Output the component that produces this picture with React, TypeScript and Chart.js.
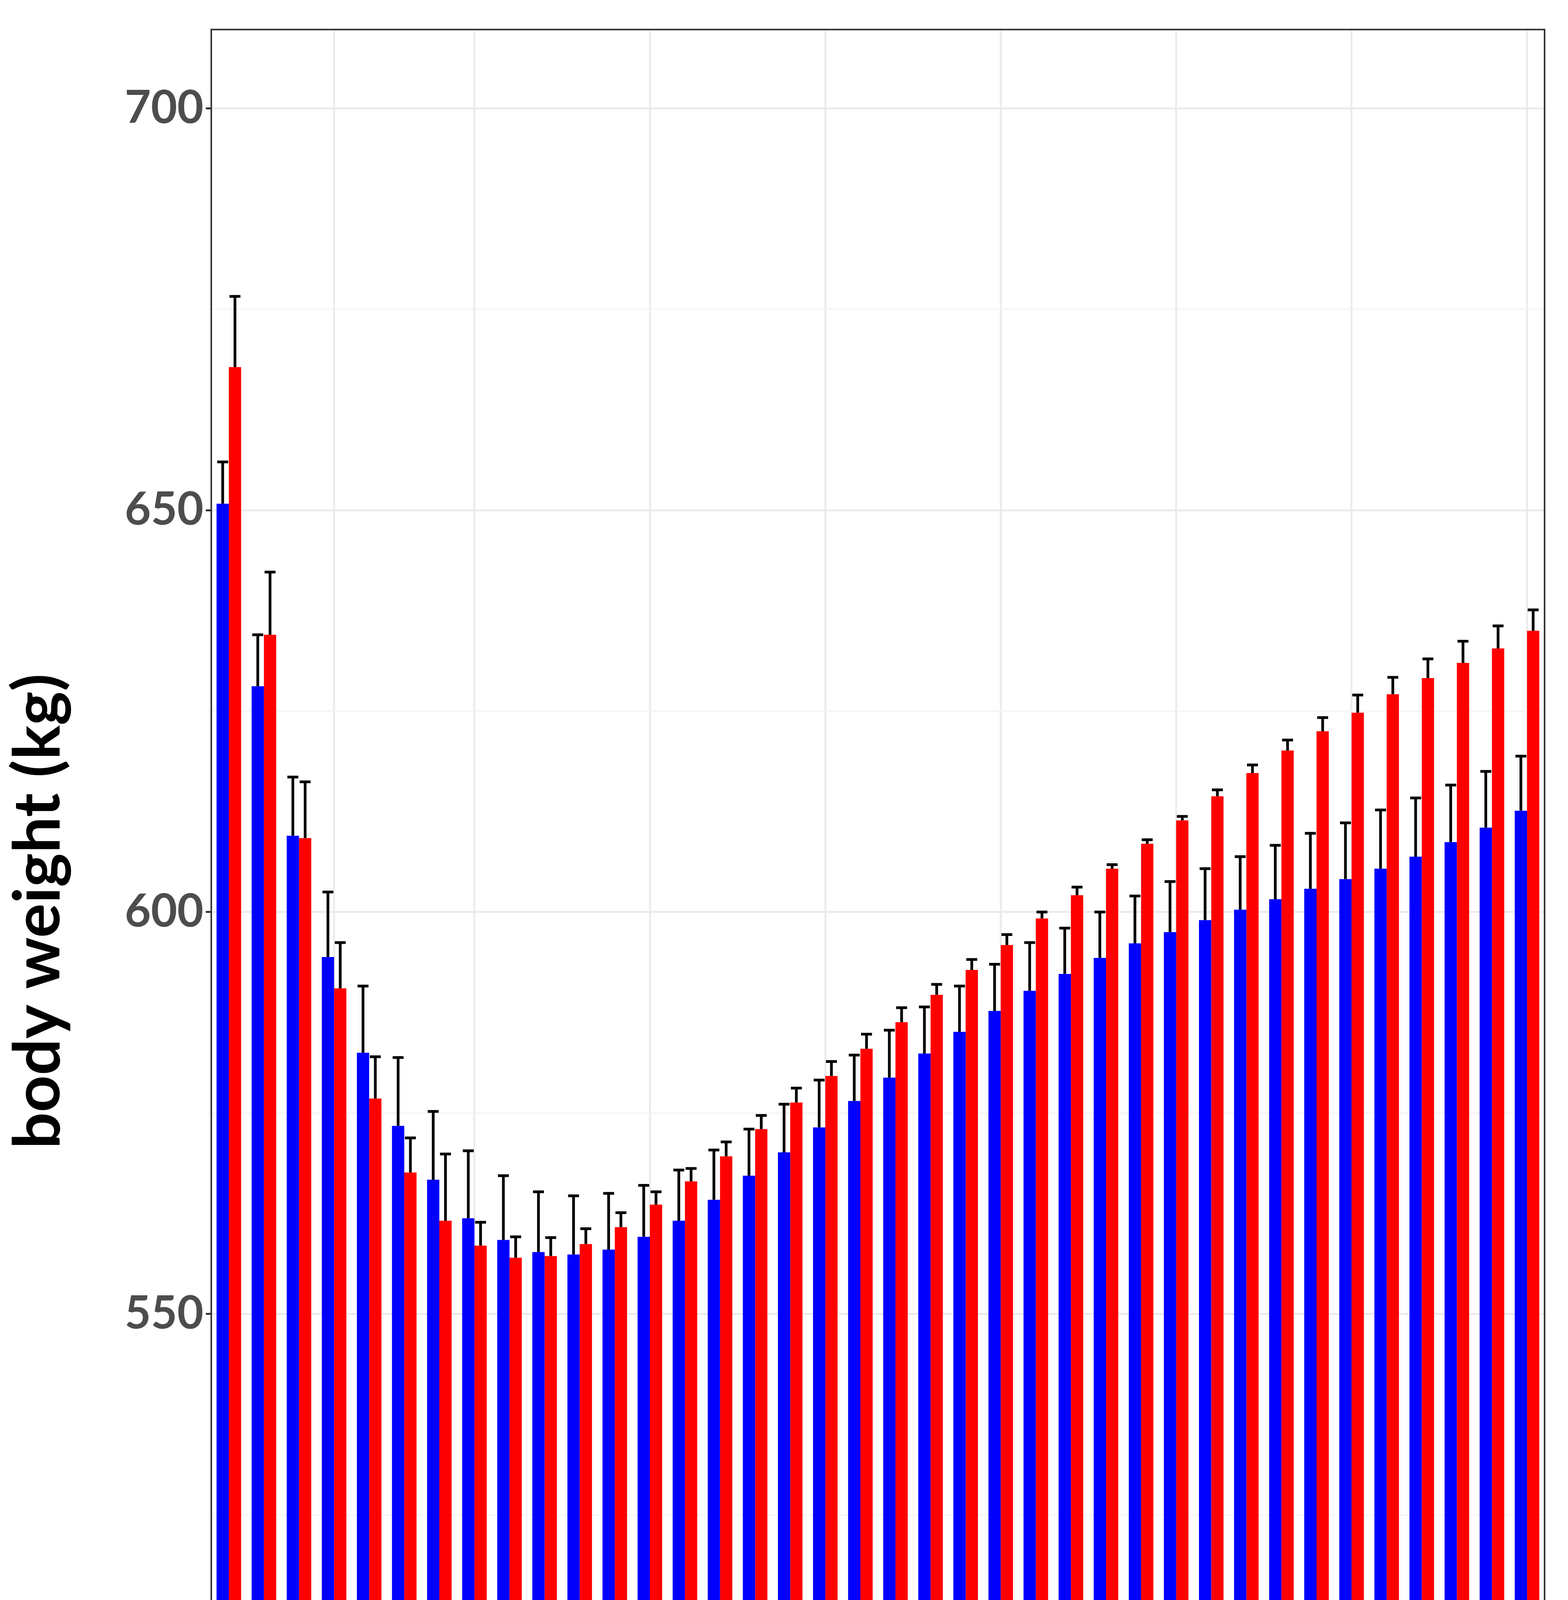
import React, { useEffect, useRef } from "react";
import { Chart, registerables } from "chart.js";
Chart.register(...registerables);

const weeks = ["-3","-2","-1",...Array.from({length:35},(_,i)=>String(i+1))];
const shownLabels = ["-3","1","5","10","15","20","25","30","35"];
const qUpper = [650.8,628.1,609.5,594.4,582.5,573.4,566.7,561.9,559.2,557.7,557.4,558.0,559.6,561.6,564.2,567.2,570.1,573.2,576.5,579.4,582.4,585.1,587.7,590.2,592.3,594.3,596.1,597.5,599.0,600.3,601.6,602.9,604.1,605.4,606.9,608.7,610.5,612.6];
const qLower = [667.8,634.5,609.2,590.5,576.8,567.6,561.6,558.5,557.0,557.2,558.7,560.8,563.6,566.5,569.6,573.0,576.3,579.6,583.0,586.3,589.7,592.8,595.9,599.2,602.1,605.4,608.5,611.4,614.4,617.3,620.1,622.5,624.8,627.1,629.1,631.0,632.8,635.0];
const errUpperQ = [656.0,634.5,616.8,602.5,590.8,581.9,575.2,570.3,567.2,565.2,564.7,565.0,566.0,567.9,570.4,573.0,576.1,579.1,582.2,585.3,588.2,590.8,593.5,596.2,598.0,600.0,602.0,603.8,605.4,606.9,608.3,609.8,611.1,612.7,614.2,615.8,617.5,619.4];
const errLowerQ = [676.6,642.3,616.2,596.2,582.0,571.9,569.9,561.4,559.6,559.5,560.6,562.6,565.2,568.1,571.4,574.7,578.1,581.4,584.8,588.1,591.0,594.1,597.2,600.0,603.1,605.9,609.0,611.9,615.2,618.3,621.4,624.2,627.0,629.2,631.5,633.7,635.6,637.6];
const errTops = [errUpperQ, errLowerQ];

const FONT = "Lato";

export default function App() {
  const ref = useRef<HTMLCanvasElement>(null);
  useEffect(() => {
    const errPlugin = {
      id: "err",
      afterDatasetsDraw(chart: any) {
        const ctx = chart.ctx; const y = chart.scales.y;
        ctx.save(); ctx.strokeStyle = "#000"; ctx.lineWidth = 7;
        [0,1].forEach(d => {
          chart.getDatasetMeta(d).data.forEach((bar: any, j: number) => {
            const top = y.getPixelForValue(errTops[d][j]);
            ctx.beginPath(); ctx.moveTo(bar.x, bar.y); ctx.lineTo(bar.x, top);
            ctx.moveTo(bar.x - 14, top); ctx.lineTo(bar.x + 14, top); ctx.stroke();
          });
        });
        const a = chart.chartArea;
        ctx.strokeStyle = "#333"; ctx.lineWidth = 4;
        ctx.strokeRect(a.left, a.top, a.right - a.left, a.bottom - a.top);
        ctx.restore();
      },
    };
    const chart = new Chart(ref.current!, {
      type: "bar",
      data: { labels: weeks, datasets: [
        { label: "Q", data: qUpper, backgroundColor: "#0000ff", barPercentage: 1, categoryPercentage: 0.7 },
        { label: "q", data: qLower, backgroundColor: "#ff0000", barPercentage: 1, categoryPercentage: 0.7 },
      ]},
      options: {
        animation: false, responsive: false, devicePixelRatio: 1,
        layout: { padding: { top: 51, right: 60, left: 0, bottom: 0 } },
        plugins: { legend: { display: false }, tooltip: { enabled: false } },
        scales: {
          x: {
            grid: { offset: false, drawTicks: true, tickLength: 14, tickColor: "#333", lineWidth: 5,
              color: (c: any) => shownLabels.includes(weeks[c.index]) && weeks[c.index] !== "-3" ? "#ebebeb" : "rgba(0,0,0,0)" },
            border: { display: false },
            ticks: { autoSkip: false, maxRotation: 0, color: "#4d4d4d", font: { family: FONT, size: 116, weight: "bold" }, padding: 4,
              callback: (_v: any, i: number) => shownLabels.includes(weeks[i]) ? weeks[i] : "" },
            title: { display: true, text: "week", color: "#000", font: { family: FONT, size: 165, weight: "bold" }, padding: { top: 0, bottom: 0 } },
            afterFit: (s: any) => { s.height = 370; },
          },
          y: {
            min: 490.4, max: 709.8,
            grid: { lineWidth: (c: any) => c.tick && c.tick.value % 50 === 0 ? 5 : 3, color: (c: any) => c.tick && c.tick.value % 50 === 0 ? "#ebebeb" : "#f3f3f3", tickLength: 14, tickColor: (c: any) => c.tick && c.tick.value % 50 === 0 ? "#333" : "rgba(0,0,0,0)" },
            border: { display: false },
            afterBuildTicks: (s: any) => { s.ticks = [500,525,550,575,600,625,650,675,700].map(v => ({ value: v })); },
            ticks: { color: "#4d4d4d", font: { family: FONT, size: 116, weight: "bold" }, padding: 6,
              callback: (v: any) => v % 50 === 0 ? String(v) : "" },
            title: { display: true, text: "body weight (kg)", color: "#000", font: { family: FONT, size: 165, weight: "bold" }, padding: { top: 0, bottom: 40 } },
            afterFit: (s: any) => { s.width = 541; },
          },
        },
      },
      plugins: [errPlugin],
    });
    return () => chart.destroy();
  }, []);
  const sw = { display: "inline-block", width: 140, height: 140, margin: "0 12px" } as React.CSSProperties;
  return (
    <div style={{ position: "absolute", left: 0, top: 0, width: 4015, height: 5314, background: "#fff", fontFamily: FONT }}>
      <canvas ref={ref} width={4015} height={4960} style={{ display: "block" }} />
      <div style={{ position: "absolute", top: 5050, left: 0, width: 4015, display: "flex", justifyContent: "center", alignItems: "center", fontWeight: "bold", color: "#000" }}>
        <span style={{ fontSize: 165, marginRight: 20 }}>Haplotype</span>
        <span style={{ ...sw, background: "#0000ff" }} />
        <span style={{ fontSize: 116 }}>Q</span>
        <span style={{ ...sw, background: "#ff0000" }} />
        <span style={{ fontSize: 116 }}>q</span>
      </div>
    </div>
  );
}
